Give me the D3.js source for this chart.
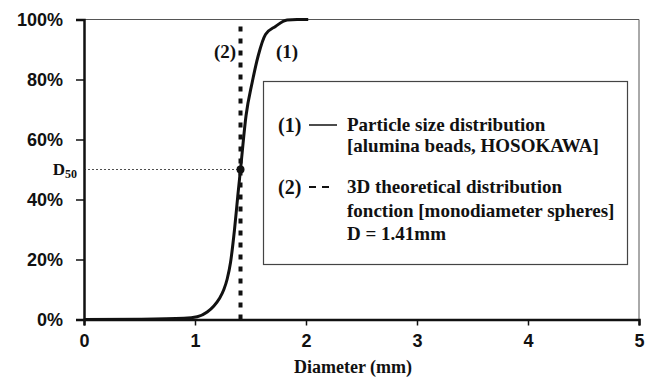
<!DOCTYPE html>
<html>
<head>
<meta charset="utf-8">
<script src="https://cdn.jsdelivr.net/npm/d3@7"></script>
<style>
  body { margin: 0; background: #fff; }
  .tick text { font-family: "Liberation Sans", Arial, sans-serif; font-weight: bold; font-size: 18px; fill: #111; }
  .serif { font-family: "Liberation Serif", "Times New Roman", serif; font-weight: bold; fill: #111; }
</style>
</head>
<body>
<div id="canvas"></div>
<script>
// cumulative size distribution (diameter mm, %)
const diameters = [0, 0.5, 0.9, 1.02, 1.11, 1.17, 1.22, 1.26, 1.29, 1.32, 1.356, 1.385, 1.41, 1.46, 1.515, 1.57, 1.635, 1.725, 1.83, 1.92, 2.02];
const cumulative = [0, 0.1, 0.4, 0.9, 2.5, 4.5, 7, 10, 13.5, 19, 30, 41, 50, 68, 79, 88, 95, 97.7, 99.8, 100, 100];
const theoreticalD = 1.41;
const d50 = 1.41;
const xTicks = [0, 1, 2, 3, 4, 5];
const yTicks = [0, 20, 40, 60, 80, 100];
const legendLines = [
  ["Particle size distribution", "[alumina beads, HOSOKAWA]"],
  ["3D theoretical distribution", "fonction [monodiameter spheres]", "D = 1.41mm"]
];

const width = 650, height = 380;
const margin = {top: 19.5, right: 11, bottom: 60.5, left: 84};

let svg = d3.select("#canvas").append("svg").attr("width", width).attr("height", height);
let g = svg.append("g").attr("transform", "translate(" + margin.left + "," + margin.top + ")");
const w = width - margin.left - margin.right, h = height - margin.top - margin.bottom;

var x = d3.scaleLinear().domain([0, 5]).range([0, w]);
var y = d3.scaleLinear().domain([0, 100]).range([h, 0]);

// frame: thin top and right
g.append("line").attr("x1", 0).attr("x2", w).attr("y1", 0).attr("y2", 0).attr("stroke", "#555").attr("stroke-width", 1);
g.append("line").attr("x1", w).attr("x2", w).attr("y1", 0).attr("y2", h).attr("stroke", "#555").attr("stroke-width", 1);

let xAxis = g.append("g").attr("transform", "translate(0," + h + ")")
  .call(d3.axisBottom(x).tickValues(xTicks).tickSize(6).tickPadding(9).tickFormat(d3.format("d")));
let yAxis = g.append("g")
  .call(d3.axisLeft(y).tickValues(yTicks).tickSize(8).tickPadding(13).tickFormat(d => d + "%"));
[xAxis, yAxis].forEach(a => {
  a.select(".domain").attr("stroke", "#111").attr("stroke-width", 2.5);
  a.selectAll(".tick line").attr("stroke", "#111").attr("stroke-width", 1.5);
});
yAxis.selectAll(".tick text").attr("dy", "0.36em");

svg.append("text").attr("class", "serif").attr("font-size", 18)
  .attr("x", 353).attr("y", 373).attr("text-anchor", "middle").text("Diameter (mm)");

// D50 guide
g.append("line").attr("x1", 0).attr("x2", x(d50)).attr("y1", y(50)).attr("y2", y(50))
  .attr("stroke", "#222").attr("stroke-width", 0.8).attr("stroke-dasharray", "2,2");
let dLabel = svg.append("text").attr("class", "serif").attr("font-size", 17)
  .attr("x", 77).attr("y", margin.top + y(50) + 5).attr("text-anchor", "end");
dLabel.append("tspan").text("D");
dLabel.append("tspan").attr("font-size", 12).attr("dy", 3).text("50");

// theoretical (2) step
g.append("line").attr("x1", x(theoreticalD)).attr("x2", x(theoreticalD)).attr("y1", y(0)).attr("y2", y(100))
  .attr("stroke", "#111").attr("stroke-width", 4).attr("stroke-dasharray", "5,7");

// measured (1) curve
const pts = diameters.map((d, i) => [d, cumulative[i]]);
g.append("path").datum(pts)
  .attr("fill", "none").attr("stroke", "#111").attr("stroke-width", 3)
  .attr("d", d3.line().x(d => x(d[0])).y(d => y(d[1])).curve(d3.curveMonotoneX));

g.append("circle").attr("cx", x(d50)).attr("cy", y(50)).attr("r", 4).attr("fill", "#111");

svg.append("text").attr("class", "serif").attr("font-size", 19).attr("x", 225).attr("y", 58).attr("text-anchor", "middle").text("(2)");
svg.append("text").attr("class", "serif").attr("font-size", 19).attr("x", 287).attr("y", 58).attr("text-anchor", "middle").text("(1)");

// legend box
svg.append("rect").attr("x", 263.5).attr("y", 81.5).attr("width", 364).attr("height", 183)
  .attr("fill", "#fff").attr("stroke", "#444").attr("stroke-width", 1.2);

const lx = 347;
const baselines = [[131, 152], [193, 217, 240]];
legendLines.forEach((lines, i) => {
  svg.append("text").attr("class", "serif").attr("font-size", 20).attr("x", 278).attr("y", baselines[i][0] + 1).text("(" + (i + 1) + ")");
  svg.append("line").attr("x1", 309).attr("x2", i == 0 ? 337 : 330).attr("y1", baselines[i][0] - 6).attr("y2", baselines[i][0] - 6)
    .attr("stroke", "#111").attr("stroke-width", i == 0 ? 1.5 : 2).attr("stroke-dasharray", i == 0 ? null : "7,6");
  lines.forEach((t, j) => {
    svg.append("text").attr("class", "serif").attr("font-size", 19).attr("x", lx).attr("y", baselines[i][j]).text(t);
  });
});
</script>
</body>
</html>
